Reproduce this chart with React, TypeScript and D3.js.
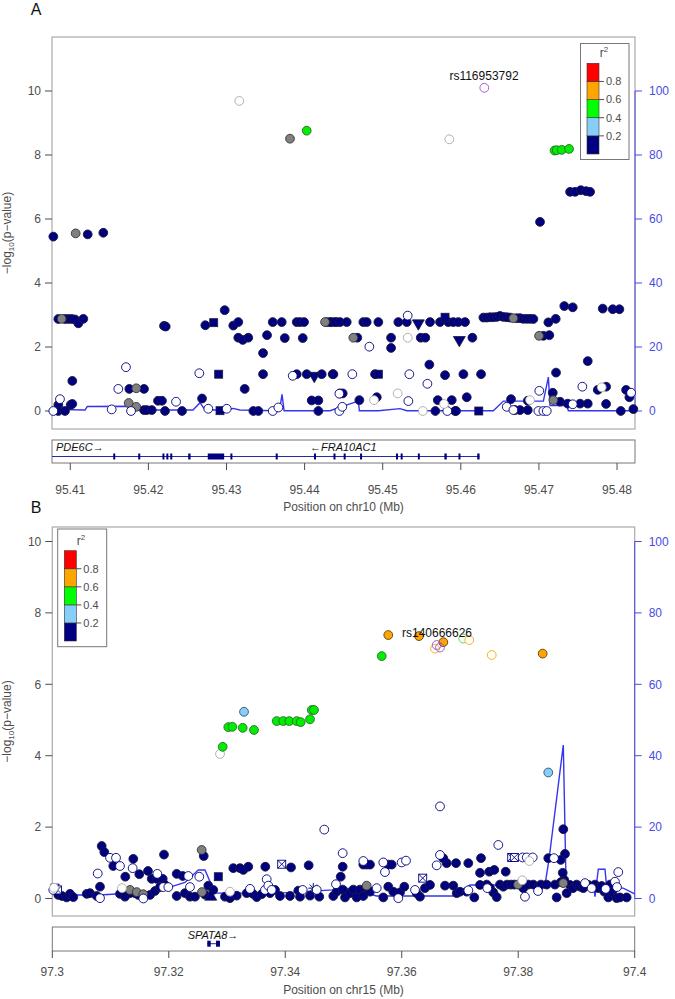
import React from 'react';
import * as d3 from 'd3';

type Pt = [number, number];

// ---------- panel A : chr10 ----------
const aXTicks = [95.41, 95.42, 95.43, 95.44, 95.45, 95.46, 95.47, 95.48];
const aNavy: Pt[] = [
  [95.47399, 6.85], [95.47463, 6.85], [95.47536, 6.9], [95.47604, 6.87], [95.47655, 6.85],
  [95.47014, 5.91], [95.40783, 5.45], [95.41223, 5.52], [95.41423, 5.57],
  [95.40847, 2.875], [95.40932, 2.875], [95.40975, 2.875], [95.41018, 2.875], [95.4106, 2.86], [95.41103, 2.74], [95.41167, 2.88],
  [95.41026, 0.94], [95.422, 2.66], [95.42222, 2.64], [95.42729, 2.68], [95.42977, 3.15], [95.43087, 2.67], [95.43151, 2.78],
  [95.43151, 2.29], [95.43208, 2.22], [95.43279, 2.29], [95.43468, 1.81], [95.43519, 2.37],
  [95.43592, 2.78], [95.43707, 2.78], [95.43746, 2.28], [95.43899, 2.78], [95.43942, 2.78], [95.43993, 2.78], [95.43976, 2.28],
  [95.44283, 2.78], [95.44347, 2.78], [95.44411, 2.78],
  [95.43468, 1.15], [95.43899, 1.15], [95.44027, 1.15], [95.44219, 1.15], [95.4436, 1.15],
  [95.43233, 0.69], [95.41756, 0.69], [95.41944, 0.69],
  [95.40847, 0.19], [95.41005, 0.19], [95.41026, 0.22], [95.40847, 0], [95.40932, 0],
  [95.41944, 0.03], [95.41979, 0.03], [95.42043, 0.03], [95.42123, 0.32], [95.42174, 0.32],
  [95.42213, 0], [95.42431, 0], [95.42687, 0.39], [95.43344, 0], [95.43408, 0],
  [95.44091, 0.33], [95.44176, 0.33], [95.44176, 0],
  [95.44326, 2.78], [95.4439, 2.78], [95.44454, 2.78], [95.44539, 2.78], [95.44752, 2.78], [95.44795, 2.78], [95.44944, 2.78],
  [95.452, 2.78], [95.45308, 2.78], [95.45606, 2.78], [95.45734, 2.78], [95.4584, 2.78], [95.45904, 2.78], [95.45968, 2.78], [95.46054, 2.78],
  [95.46289, 2.92], [95.46332, 2.92], [95.46374, 2.93], [95.46417, 2.93], [95.4646, 2.94], [95.46502, 2.97], [95.46545, 2.94],
  [95.46588, 2.93], [95.4663, 2.92], [95.46716, 2.9], [95.46758, 2.9], [95.46801, 2.88], [95.46844, 2.88], [95.46886, 2.88], [95.46929, 2.875],
  [95.47121, 2.77], [95.47215, 2.88], [95.47325, 3.28], [95.47433, 3.24], [95.47817, 3.2], [95.47945, 3.18], [95.4803, 3.18],
  [95.44675, 2.29], [95.45107, 2.29], [95.45487, 2.29], [95.45546, 2.29], [95.46148, 2.29],
  [95.45107, 1.97], [95.47057, 2.35], [95.47133, 2.37], [95.45597, 1.45], [95.47625, 1.56],
  [95.44368, 1.15], [95.44902, 1.15], [95.45798, 1.12], [95.46033, 1.15], [95.46259, 1.15], [95.47219, 1.2],
  [95.44454, 0.55], [95.44488, 0.55], [95.44924, 0.43], [95.44701, 0.34], [95.45705, 0.34], [95.45884, 0.34], [95.46076, 0.43],
  [95.45674, 0], [95.45926, 0], [95.45939, 0],
  [95.46643, 0.37], [95.46857, 0.32], [95.46695, 0.03], [95.46758, 0.03], [95.46857, 0.03],
  [95.47177, 0.57], [95.4727, 0.29], [95.47369, 0.23], [95.47527, 0.23], [95.47625, 0.23],
  [95.47753, 0.66], [95.4786, 0.76], [95.4786, 0.22], [95.48048, 0], [95.48116, 0.66], [95.48158, 0.43], [95.48209, 0.06],
];
const aGray: Pt[] = [
  [95.41069, 5.55], [95.43813, 8.51], [95.41845, 0.71], [95.41748, 0.25], [95.41845, 0.13], [95.44262, 2.78],
  [95.44624, 2.29], [95.47002, 2.35], [95.46673, 2.9], [95.47185, 0.34], [95.4089, 2.88],
];
const aGrayOpen: Pt[] = [
  [95.43164, 9.69], [95.45853, 8.49], [95.4532, 2.29], [95.45192, 0.55], [95.44889, 0.34], [95.45785, 0.22],
  [95.45513, 0], [95.46886, 0.34], [95.47804, 0.74],
];
const aNavyOpen: Pt[] = [
  [95.43848, 1.1], [95.42652, 1.18], [95.41713, 1.37], [95.41615, 0.69], [95.40868, 0.37], [95.4153, 0.05], [95.41778, 0],
  [95.42354, 0.29], [95.42767, 0.07], [95.43003, 0.07], [95.43592, 0], [95.43664, 0.11], [95.44445, 0.54], [95.44445, 0],
  [95.4532, 2.98], [95.44829, 2.01], [95.44611, 1.15], [95.45341, 1.15], [95.45572, 0.85], [95.45328, 0.31], [95.44483, 0.13],
  [95.45827, 0], [95.46588, 0.13], [95.46673, 0.03], [95.47005, 0.63], [95.46993, 0], [95.47057, 0], [95.471, 0],
  [95.47433, 0.21], [95.47556, 0.76], [95.4818, 0.57], [95.40783, 0],
];
const aSquare: Pt[] = [[95.42836, 2.76], [95.429, 1.15], [95.42917, 0.01], [95.45798, 2.93], [95.44944, 1.15], [95.4623, 0]];
const aTriDown: Pt[] = [[95.44124, 1.1], [95.45456, 2.74], [95.45981, 2.22]];
const aGreen: Pt[] = [[95.44027, 8.76], [95.472, 8.14], [95.47228, 8.15], [95.47292, 8.16], [95.47386, 8.19]];
const aIndex: Pt[] = [[95.46301, 10.1]];
const aRecPos = [95.40766, 95.41189, 95.41218, 95.41739, 95.41787, 95.42571, 95.42661, 95.42725, 95.42981, 95.43084,
  95.43173, 95.43596, 95.43685, 95.43711, 95.43737, 95.44326, 95.44454, 95.44688, 95.44701, 95.44944,
  95.45222, 95.45308, 95.46416, 95.46545, 95.47057, 95.47121, 95.47142, 95.47356, 95.47377, 95.48231];
const aRecRate = [0.5, 0.3, 1.4, 1.5, 0.3, 0.3, 2.6, 0.3, 0.3, 0.8,
  0.3, 0.1, 1.1, 5.2, 0.1, 0.1, 1.2, 3.1, 0.1, 0.1,
  0.75, 0.1, 0.1, 3.1, 3.1, 10.6, 1.7, 1.7, 0.1, 0.1];
const aExons: Pt[] = [
  [95.4155, 95.4157], [95.4187, 95.4189], [95.4218, 95.422], [95.4223, 95.4225], [95.4228, 95.423], [95.4251, 95.4254],
  [95.4276, 95.4297], [95.4305, 95.4307], [95.4363, 95.4365], [95.4412, 95.4414], [95.4437, 95.4439], [95.445, 95.4452],
  [95.4471, 95.4473], [95.4517, 95.4519], [95.4523, 95.4525], [95.4545, 95.4547], [95.4579, 95.4582], [95.4597, 95.4599],
  [95.4621, 95.4624],
];

// ---------- panel B : chr15 ----------
const bXTicks = [97.3, 97.32, 97.34, 97.36, 97.38, 97.4];
const bNavy: Pt[] = [
  [97.30848, 1.47], [97.30893, 1.3], [97.31047, 0.91], [97.31391, 1.11], [97.31253, 0.61], [97.30819, 0.33], [97.31494, 0.68],
  [97.31643, 0.77], [97.31707, 0.55], [97.31793, 0.55], [97.31896, 0.55], [97.31918, 1.23], [97.32136, 0.69], [97.32239, 0.63],
  [97.326, 1.19], [97.33108, 0.85], [97.33223, 0.85], [97.3328, 0.8], [97.33365, 0.89], [97.33657, 0.89], [97.34099, 0.87], [97.34402, 0.93],
  [97.30103, 0.1], [97.30167, 0.07], [97.30247, 0.03], [97.30304, 0.13], [97.30361, 0.04], [97.30591, 0.13], [97.30647, 0.15],
  [97.30762, 0.07], [97.31162, 0.13], [97.31248, 0.05], [97.31334, 0.15], [97.3142, 0.15], [97.31477, 0.1], [97.31678, 0.1],
  [97.31763, 0.21], [97.31849, 0.32], [97.31935, 0.38], [97.32136, 0.07], [97.32278, 0.15], [97.32364, 0.05], [97.3245, 0.05],
  [97.32622, 0.11], [97.32679, 0.36], [97.32764, 0.24], [97.32965, 0.05], [97.33051, 0.01], [97.33166, 0.08], [97.33338, 0.15],
  [97.33446, 0.13], [97.3351, 0.04], [97.33595, 0.12], [97.33738, 0.15], [97.33824, 0.24], [97.3391, 0.07], [97.34081, 0.07],
  [97.34224, 0.22], [97.34253, 0.05], [97.34425, 0.08], [97.34584, 0.05],
  [97.38774, 1.94], [97.38803, 1.25], [97.38516, 1.13], [97.38729, 1.08], [97.37361, 1.13], [97.37344, 0.72], [97.37503, 0.75],
  [97.37589, 0.8], [97.37785, 0.75], [97.37143, 0.99], [97.36932, 0.99], [97.36772, 0.99], [97.36713, 1.13], [97.34986, 0.89],
  [97.34952, 0.61], [97.3534, 0.95], [97.35398, 0.95], [97.35455, 0.95], [97.35769, 0.95], [97.35828, 0.95], [97.38791, 0.52], [97.38764, 0.72],
  [97.34825, 0.07], [97.34883, 0.19], [97.34986, 0.25], [97.35026, 0.03], [97.35112, 0.15], [97.35168, 0.25], [97.35227, 0.03],
  [97.35283, 0.25], [97.3534, 0.07], [97.35398, 0.29], [97.35455, 0.19], [97.35683, 0.03], [97.35769, 0.33], [97.35855, 0.19],
  [97.3597, 0.17], [97.36044, 0.33], [97.36257, 0.15], [97.36313, 0.05], [97.36399, 0.29], [97.36485, 0.38], [97.36743, 0.36],
  [97.36885, 0.36], [97.36944, 0.15], [97.37, 0.19], [97.37115, 0.19], [97.37246, 0.03], [97.37344, 0.38], [97.37459, 0.39],
  [97.37515, 0.3], [97.37572, 0.17], [97.3763, 0.04], [97.37687, 0.39], [97.37744, 0.33], [97.37807, 0.39], [97.37876, 0.39],
  [97.37933, 0.39], [97.3803, 0.39], [97.38087, 0.29], [97.38173, 0.39], [97.38259, 0.39], [97.38345, 0.32], [97.38391, 0.39],
  [97.38489, 0.39], [97.38631, 0.39], [97.3866, 0.03], [97.38734, 0.46], [97.38832, 0.15], [97.38889, 0.38], [97.38941, 0.29],
  [97.39004, 0.39], [97.39061, 0.33], [97.39117, 0.29], [97.39203, 0.38], [97.39261, 0.32], [97.39318, 0.39], [97.39375, 0.29],
  [97.39433, 0.35], [97.39478, 0.19], [97.39547, 0.03], [97.39576, 0.39], [97.39615, 0.18], [97.39691, 0.01], [97.39747, 0.03], [97.39862, 0.03],
];
const bNavyOpen: Pt[] = [
  [97.30991, 1.14], [97.31094, 1.14], [97.31162, 0.91], [97.3138, 0.85], [97.3078, 0.7], [97.31803, 0.69], [97.32335, 0.63],
  [97.32524, 0.61], [97.33681, 0.54], [97.30017, 0.24], [97.30819, 0.01], [97.31562, 0], [97.31906, 0.32], [97.31992, 0.32],
  [97.32364, 0.32], [97.33395, 0.27], [97.33652, 0.24], [97.33709, 0.36], [97.33767, 0.24], [97.34299, 0.24], [97.3454, 0.24],
  [97.34986, 1.27], [97.3534, 1.05], [97.35683, 1.01], [97.35712, 0.74], [97.35999, 1.01], [97.36073, 1.06], [97.36657, 1.22],
  [97.366, 0.93], [97.38077, 1.15], [97.38146, 1.15], [97.38249, 1.15], [97.38614, 1.13], [97.39718, 0.74], [97.39661, 0.47],
  [97.34871, 0.4], [97.3557, 0.29], [97.35941, 0.01], [97.36228, 0.24], [97.37143, 0.23], [97.37469, 0.29], [97.38116, 0.05],
  [97.3834, 0.21], [97.39147, 0.43], [97.39261, 0.29], [97.39502, 0.27], [97.39696, 0.32],
  [97.36657, 2.58], [97.3467, 1.93], [97.37658, 1.5],
];
const bGray: Pt[] = [[97.32565, 1.36], [97.31334, 0.24], [97.31449, 0.18], [97.31562, 0.12], [97.3257, 0.18], [97.35398, 0.36], [97.37996, 0.39], [97.38774, 0.43]];
const bGrayOpen: Pt[] = [[97.3288, 4.05], [97.31197, 0.29], [97.33051, 0.19], [97.3819, 1.05], [97.3807, 0.51], [97.30029, 0.3]];
const bGreen: Pt[] = [
  [97.32926, 4.25], [97.33022, 4.8], [97.33091, 4.81], [97.33269, 4.78], [97.33463, 4.72], [97.33853, 4.97], [97.33966, 4.97],
  [97.34069, 4.97], [97.34196, 4.97], [97.34265, 4.94], [97.34425, 5.02], [97.34454, 5.28], [97.34494, 5.28], [97.35656, 6.79],
];
const bLightBlue: Pt[] = [[97.33292, 5.23], [97.38516, 3.53]];
const bOrange: Pt[] = [[97.35769, 7.38], [97.36296, 7.35], [97.36714, 7.18], [97.3842, 6.86]];
const bOrangeOpen: Pt[] = [[97.36571, 7.0], [97.3716, 7.24], [97.37545, 6.82]];
const bGreenOpen: Pt[] = [[97.37057, 7.28]];
const bIndex: Pt[] = [[97.366, 7.1], [97.36657, 7.03]];
const bSquare: Pt[] = [[97.3285, 0.61]];
const bXSquare: Pt[] = [[97.33939, 0.96], [97.3636, 0.57], [97.37888, 1.15], [97.37933, 1.15], [97.30046, 0.29], [97.3009, 0.24]];
const bStar: Pt[] = [[97.34481, 0.29]];
const bTriUp: Pt[] = [[97.3272, 0.05]];
const bRecPos = [97.3, 97.30247, 97.30819, 97.31707, 97.31964, 97.32278, 97.32507, 97.32622, 97.32696, 97.32794,
  97.3388, 97.34825, 97.3494, 97.35112, 97.3557, 97.36944, 97.37172, 97.3846, 97.38529, 97.38774,
  97.3882, 97.38889, 97.39289, 97.39318, 97.39375, 97.3949, 97.39519, 97.39804, 97.4];
const bRecRate = [2.4, 1.0, 1.0, 1.9, 2.9, 4.5, 8.0, 8.0, 5.2, 1.5,
  1.5, 2.4, 3.3, 2.7, 0.7, 0.7, 3.8, 3.8, 11, 43,
  5.2, 3.8, 3.8, 0.5, 8.2, 8.2, 2.9, 2.9, 1.3];
const bExons: Pt[] = [[97.32661, 97.3272], [97.32811, 97.32879]];

const yTicks = [0, 2, 4, 6, 8, 10];
const recTicks = [0, 20, 40, 60, 80, 100];
const ldBreaks = [0, 0.2, 0.4, 0.6, 0.8, 1];
const ldLabels = [0.2, 0.4, 0.6, 0.8];
const ldColors = ['#000080', '#87CEFA', '#00FF00', '#FFA500', '#FF0000'];

const FONT = '"Liberation Sans", Arial, Helvetica, sans-serif';
const GREY = '#4d4d4d';
const BLUE = '#4a4ae6';

const STYLE: Record<string, { shape: string; fill: string; stroke: string }> = {
  navy: { shape: 'circle', fill: '#000080', stroke: '#1a1a40' },
  navyOpen: { shape: 'circle', fill: 'white', stroke: '#000080' },
  gray: { shape: 'circle', fill: '#808080', stroke: '#333' },
  grayOpen: { shape: 'circle', fill: 'white', stroke: '#a8a8a8' },
  green: { shape: 'circle', fill: '#00ee00', stroke: '#2b6b2b' },
  greenOpen: { shape: 'circle', fill: 'white', stroke: '#33dd33' },
  orange: { shape: 'circle', fill: '#FFA500', stroke: '#5a4010' },
  orangeOpen: { shape: 'circle', fill: 'white', stroke: '#FFA500' },
  lightblue: { shape: 'circle', fill: '#87CEFA', stroke: '#2f4f6f' },
  index: { shape: 'circle', fill: 'none', stroke: '#9b4fd0' },
  square: { shape: 'square', fill: '#000080', stroke: '#1a1a40' },
  triDown: { shape: 'triDown', fill: '#000080', stroke: '#1a1a40' },
  triUp: { shape: 'triUp', fill: '#000080', stroke: '#1a1a40' },
  xsquare: { shape: 'xsquare', fill: 'white', stroke: '#000080' },
  star: { shape: 'star', fill: 'none', stroke: '#000080' },
};

const triPath = d3.symbol().type(d3.symbolTriangle).size(62)() as string;

function Marker({ kind, cx, cy }: { kind: string; cx: number; cy: number }) {
  const s = STYLE[kind];
  const r = 4.4;
  if (s.shape === 'circle')
    return <circle cx={cx} cy={cy} r={r} fill={s.fill} stroke={s.stroke} strokeWidth={0.9} />;
  if (s.shape === 'square')
    return <rect x={cx - 4} y={cy - 4} width={8} height={8} fill={s.fill} stroke={s.stroke} strokeWidth={0.8} />;
  if (s.shape === 'triDown' || s.shape === 'triUp')
    return <path d={triPath} transform={`translate(${cx},${cy})${s.shape === 'triDown' ? ' rotate(180)' : ''}`}
      fill={s.fill} stroke={s.stroke} strokeWidth={0.8} />;
  if (s.shape === 'xsquare')
    return (
      <g stroke={s.stroke} strokeWidth={0.9} fill={s.fill}>
        <rect x={cx - 4} y={cy - 4} width={8} height={8} />
        <path d={`M${cx - 4},${cy - 4}L${cx + 4},${cy + 4}M${cx + 4},${cy - 4}L${cx - 4},${cy + 4}`} />
      </g>
    );
  // asterisk
  return (
    <path d={`M${cx - 5},${cy}L${cx + 5},${cy}M${cx},${cy - 5}L${cx},${cy + 5}M${cx - 3.6},${cy - 3.6}L${cx + 3.6},${cy + 3.6}M${cx + 3.6},${cy - 3.6}L${cx - 3.6},${cy + 3.6}`}
      stroke={s.stroke} strokeWidth={1} />
  );
}

interface LegendCfg { x: number; y: number; w: number; h: number; barX: number; barY0: number; barY1: number; rX: number; rY: number }

function Legend({ c }: { c: LegendCfg }) {
  const s = d3.scaleLinear().domain([0, 1]).range([c.barY1, c.barY0]);
  return (
    <g fontFamily={FONT}>
      <rect x={c.x} y={c.y} width={c.w} height={c.h} fill="white" stroke="#777" strokeWidth={1} />
      {ldColors.map((col, i) => (
        <rect key={i} x={c.barX} y={s(ldBreaks[i + 1])} width={12} height={s(ldBreaks[i]) - s(ldBreaks[i + 1])}
          fill={col} stroke="#333" strokeWidth={0.6} />
      ))}
      {ldLabels.map((v) => (
        <g key={v}>
          <line x1={c.barX + 12} x2={c.barX + 17} y1={s(v)} y2={s(v)} stroke={GREY} />
          <text x={c.barX + 19} y={s(v)} dy="0.35em" fontSize={11} fill={GREY}>{v}</text>
        </g>
      ))}
      <text x={c.rX} y={c.rY} fontSize={12} fill={GREY} textAnchor="middle">r<tspan fontSize={8} dy={-5}>2</tspan></text>
    </g>
  );
}

interface PanelCfg {
  tag: string; tagY: number;
  domain: [number, number];
  x0: number; x1: number; top: number; bottom: number;
  yZero: number; yTen: number;
  xTicks: number[]; xTitle: string;
  recPos: number[]; recRate: number[];
  series: { data: Pt[]; kind: string }[];
  gTop: number; gBottom: number; gLineY: number; geneStart: number; geneEnd: number; exons: Pt[];
  genes: { text: string; x: number; anchor: string }[]; geneTextY: number;
  tickLabelY: number; titleY: number;
  legend: LegendCfg;
  snp: { text: string; x: number; y: number };
}

function Panel({ c }: { c: PanelCfg }) {
  const x = d3.scaleLinear().domain(c.domain).range([c.x0, c.x1]);
  const y = d3.scaleLinear().domain([0, 10]).range([c.yZero, c.yTen]);
  const rec = d3.scaleLinear().domain([0, 100]).range([c.yZero, c.yTen]);
  const recLine = d3.line<number>().x((d) => x(d)).y((_, i) => rec(c.recRate[i]));
  const midY = (c.top + c.bottom) / 2;
  return (
    <g fontFamily={FONT}>
      <text x={36} y={c.tagY} fontSize={16} textAnchor="middle" fill="#111">{c.tag}</text>
      <rect x={c.x0} y={c.top} width={c.x1 - c.x0} height={c.bottom - c.top} fill="none" stroke="#aaa" strokeWidth={1.2} />
      {/* left axis */}
      {yTicks.map((t) => (
        <g key={t}>
          <line x1={c.x0 - 7} x2={c.x0} y1={y(t)} y2={y(t)} stroke={GREY} />
          <text x={c.x0 - 11} y={y(t)} dy="0.35em" textAnchor="end" fontSize={12} fill={GREY}>{t}</text>
        </g>
      ))}
      <text transform={`translate(11,${midY}) rotate(-90)`} textAnchor="middle" fontSize={12} fill={GREY}>
        −log<tspan fontSize={8} dy={3}>10</tspan><tspan dy={-3}>(p−value)</tspan>
      </text>
      {/* right axis */}
      <line x1={c.x1} x2={c.x1} y1={rec(0)} y2={rec(100)} stroke={BLUE} strokeWidth={1} />
      {recTicks.map((t) => (
        <g key={t}>
          <line x1={c.x1} x2={c.x1 + 7} y1={rec(t)} y2={rec(t)} stroke={BLUE} />
          <text x={c.x1 + 14} y={rec(t)} dy="0.35em" fontSize={12} fill={BLUE}>{t}</text>
        </g>
      ))}
      {/* recombination rate */}
      <path d={recLine(c.recPos) as string} fill="none" stroke="#3535ee" strokeWidth={1.4} />
      {/* points */}
      {c.series.map((s, si) => (
        <g key={si}>
          {s.data.map((d, i) => <Marker key={i} kind={s.kind} cx={x(d[0])} cy={y(d[1])} />)}
        </g>
      ))}
      <text x={c.snp.x} y={c.snp.y} textAnchor="middle" fontSize={12} fill="#111">{c.snp.text}</text>
      <Legend c={c.legend} />
      {/* gene track */}
      <rect x={c.x0} y={c.gTop} width={c.x1 - c.x0} height={c.gBottom - c.gTop} fill="none" stroke="#777" strokeWidth={1} />
      <line x1={x(c.geneStart)} x2={x(c.geneEnd)} y1={c.gLineY} y2={c.gLineY} stroke="#2a2a9a" strokeWidth={1} />
      {c.exons.map((e, i) => (
        <rect key={i} x={x(e[0])} y={c.gLineY - 3} width={Math.max(2, x(e[1]) - x(e[0]))} height={6} fill="#000080" />
      ))}
      {c.genes.map((g) => (
        <text key={g.text} x={g.x} y={c.geneTextY} fontSize={11} fontStyle="italic" fill="#111"
          textAnchor={g.anchor as 'start' | 'middle'}>{g.text}</text>
      ))}
      {/* x axis */}
      {c.xTicks.map((t) => (
        <g key={t}>
          <line x1={x(t)} x2={x(t)} y1={c.gBottom} y2={c.gBottom + 7} stroke={GREY} />
          <text x={x(t)} y={c.tickLabelY} textAnchor="middle" fontSize={12} fill={GREY}>{String(t)}</text>
        </g>
      ))}
      <text x={(c.x0 + c.x1) / 2} y={c.titleY} textAnchor="middle" fontSize={12} fill={GREY}>{c.xTitle}</text>
    </g>
  );
}

const panelA: PanelCfg = {
  tag: 'A', tagY: 15,
  domain: [95.40766, 95.4823], x0: 52, x1: 635, top: 37, bottom: 429,
  yZero: 411, yTen: 91,
  xTicks: aXTicks, xTitle: 'Position on chr10 (Mb)',
  recPos: aRecPos, recRate: aRecRate,
  series: [
    { data: aNavy, kind: 'navy' }, { data: aSquare, kind: 'square' }, { data: aTriDown, kind: 'triDown' },
    { data: aGray, kind: 'gray' }, { data: aNavyOpen, kind: 'navyOpen' }, { data: aGrayOpen, kind: 'grayOpen' },
    { data: aGreen, kind: 'green' }, { data: aIndex, kind: 'index' },
  ],
  gTop: 440, gBottom: 463, gLineY: 456.5, geneStart: 95.40766, geneEnd: 95.4624, exons: aExons,
  genes: [{ text: 'PDE6C→', x: 56, anchor: 'start' }, { text: '←FRA10AC1', x: 310, anchor: 'start' }], geneTextY: 451,
  tickLabelY: 494, titleY: 511,
  legend: { x: 580.5, y: 43.5, w: 48.5, h: 116, barX: 587, barY0: 63.3, barY1: 154, rX: 604, rY: 57 },
  snp: { text: 'rs116953792', x: 484, y: 80 },
};

const panelB: PanelCfg = {
  tag: 'B', tagY: 513,
  domain: [97.3, 97.4], x0: 52.3, x1: 634.7, top: 527, bottom: 916,
  yZero: 898.5, yTen: 541.5,
  xTicks: bXTicks, xTitle: 'Position on chr15 (Mb)',
  recPos: bRecPos, recRate: bRecRate,
  series: [
    { data: bNavy, kind: 'navy' }, { data: bSquare, kind: 'square' }, { data: bTriUp, kind: 'triUp' },
    { data: bXSquare, kind: 'xsquare' }, { data: bStar, kind: 'star' },
    { data: bGray, kind: 'gray' }, { data: bNavyOpen, kind: 'navyOpen' }, { data: bGrayOpen, kind: 'grayOpen' },
    { data: bLightBlue, kind: 'lightblue' }, { data: bGreen, kind: 'green' }, { data: bGreenOpen, kind: 'greenOpen' },
    { data: bOrangeOpen, kind: 'orangeOpen' }, { data: bOrange, kind: 'orange' }, { data: bIndex, kind: 'index' },
  ],
  gTop: 927, gBottom: 951, gLineY: 943.7, geneStart: 97.32661, geneEnd: 97.32879, exons: bExons,
  genes: [{ text: 'SPATA8→', x: 213, anchor: 'middle' }], geneTextY: 939,
  tickLabelY: 976, titleY: 994,
  legend: { x: 57.7, y: 529, w: 49, h: 117.7, barX: 64.3, barY0: 550.7, barY1: 641, rX: 81, rY: 545 },
  snp: { text: 'rs140666626', x: 437, y: 637 },
};

export default function App() {
  return (
    <svg width={675} height={999} style={{ position: 'absolute', left: 0, top: 0, background: 'white' }}>
      <rect width={675} height={999} fill="white" />
      <Panel c={panelA} />
      <Panel c={panelB} />
    </svg>
  );
}
